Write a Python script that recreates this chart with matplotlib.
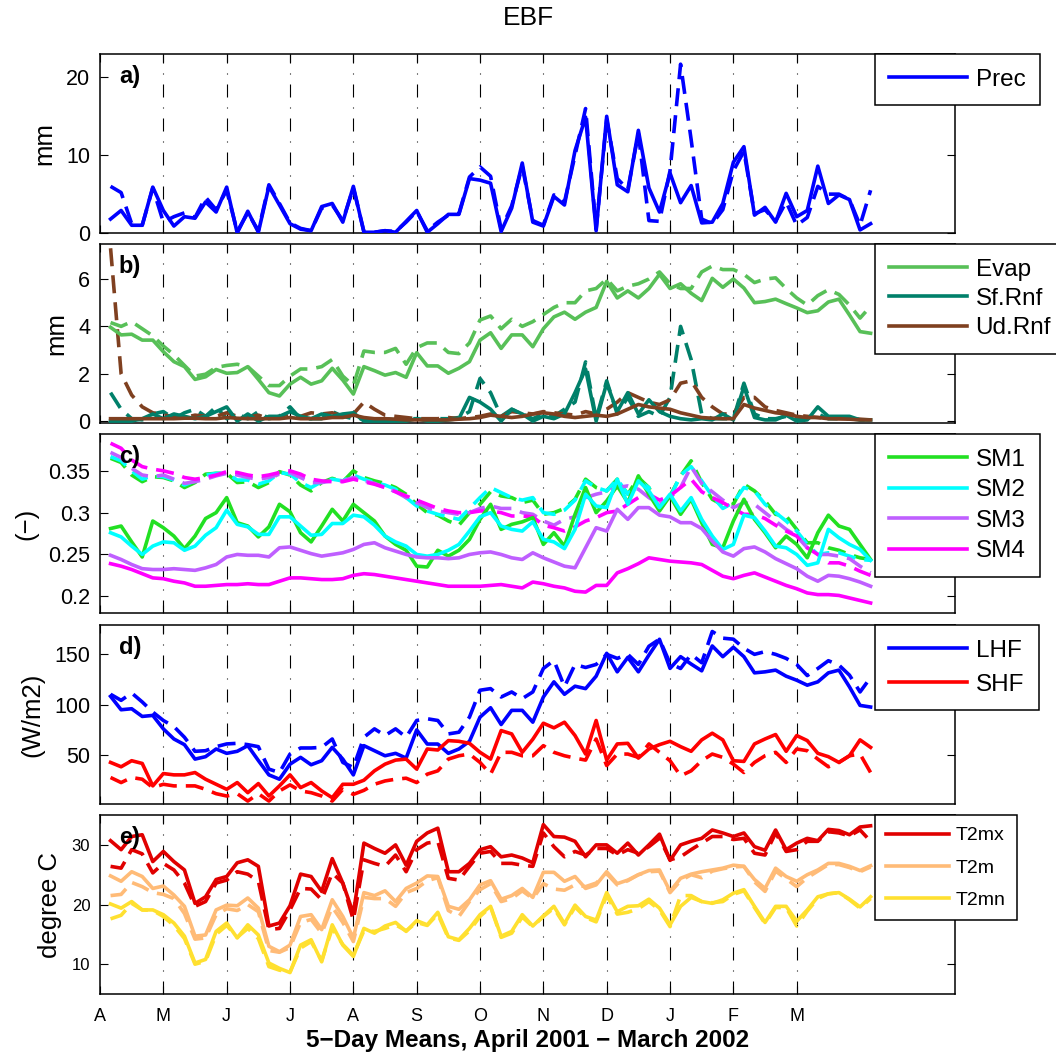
import matplotlib.pyplot as plt
import numpy as np

# 73 five-day periods, April 2001 - March 2002
days = np.arange(1, 74)
month_pos = [0, 6, 12, 18, 24, 30, 36, 42, 48, 54, 60, 66]
month_lbl = ['A', 'M', 'J', 'J', 'A', 'S', 'O', 'N', 'D', 'J', 'F', 'M']

# a) precipitation (solid / dashed)
prec = [1.8, 2.9, 1.0, 1.0, 5.9, 2.9, 0.9, 2.1, 1.9, 4.0,
        2.7, 5.9, 0.0, 2.8, 0.1, 6.0, 3.6, 1.2, 0.5, 0.3,
        3.4, 3.8, 1.4, 6.0, 0.1, 0.1, 0.3, 0.1, 1.5, 2.9,
        0.1, 1.2, 2.4, 2.4, 7.0, 6.8, 6.4, 0.2, 3.2, 9.0,
        1.4, 0.9, 4.7, 3.6, 10.6, 14.9, 0.3, 15.0, 6.2, 5.3,
        13.2, 5.8, 2.7, 7.7, 3.9, 6.1, 1.3, 1.4, 3.8, 9.1,
        11.1, 2.3, 3.3, 1.4, 5.1, 2.1, 2.9, 8.6, 3.8, 4.9,
        4.3, 0.4, 1.2]
prec_d = [6.0, 5.2, 1.2, 1.0, 5.8, 1.4, 2.1, 2.6, 2.0, 4.6,
          3.0, 5.5, 0.2, 2.6, 0.3, 6.2, 3.8, 1.3, 0.6, 0.3,
          3.2, 3.6, 1.6, 5.8, 0.2, 0.1, 0.3, 0.2, 1.4, 2.8,
          0.3, 1.4, 2.3, 2.5, 7.2, 8.5, 7.3, 0.5, 3.5, 8.6,
          1.6, 1.0, 4.9, 4.0, 10.0, 16.0, 0.5, 14.6, 7.0, 5.6,
          12.8, 1.6, 1.5, 8.0, 21.7, 12.0, 1.8, 1.2, 3.0, 8.0,
          10.5, 2.5, 3.0, 1.5, 4.0, 1.0, 2.0, 6.0, 5.0, 5.0,
          4.3, 1.0, 5.5]

# b) evaporation and runoff
evap = [3.96, 3.64, 3.67, 3.42, 3.42, 2.93, 2.51, 2.30, 1.76, 1.87,
        2.18, 2.02, 2.05, 2.30, 1.76, 1.20, 1.06, 1.56, 1.85, 1.56,
        1.70, 2.23, 1.73, 1.14, 2.30, 2.13, 1.94, 2.05, 1.85, 2.89,
        2.33, 2.33, 2.02, 2.23, 2.51, 3.42, 3.73, 3.07, 3.64, 3.64,
        3.14, 3.9, 4.4, 4.6, 4.3, 4.6, 4.8, 5.9, 5.2, 5.5,
        5.2, 5.6, 6.2, 5.6, 5.8, 5.4, 5.09, 6.03, 5.65, 6.0,
        5.62, 5.0, 5.05, 5.15, 4.96, 4.78, 4.58, 4.66, 5.03, 5.15,
        4.48, 3.78, 3.71]
evap_d = [4.16, 4.0, 4.2, 3.9, 3.6, 3.17, 2.8, 2.35, 1.9, 1.98,
          2.27, 2.35, 2.4, 2.3, 1.9, 1.5, 1.5, 1.9, 2.2, 2.2,
          2.3, 2.6, 1.9, 1.5, 2.96, 2.9, 2.9, 3.07, 2.4, 3.1,
          3.3, 3.3, 2.9, 2.85, 3.3, 4.27, 4.44, 3.9, 4.3, 4.0,
          4.2, 4.5, 4.8, 5.0, 5.0, 5.5, 5.6, 6.0, 5.5, 5.7,
          5.8, 6.0, 6.3, 5.8, 5.6, 5.6, 6.3, 6.55, 6.4, 6.4,
          6.2, 5.85, 6.0, 6.05, 5.6, 5.2, 4.9, 5.3, 5.55, 5.35,
          4.9, 4.35, 4.85]
sfrnf = [0.0, 0.0, 0.0, 0.1, 0.3, 0.1, 0.3, 0.2, 0.1, 0.2,
         0.4, 0.6, 0.0, 0.3, 0.0, 0.2, 0.2, 0.4, 0.2, 0.1,
         0.3, 0.2, 0.3, 0.35, 0.0, 0.0, 0.0, 0.0, 0.0, 0.1,
         0.0, 0.0, 0.05, 0.1, 1.0, 0.8, 0.5, 0.0, 0.5, 0.3,
         0.0, 0.2, 0.1, 0.3, 1.2, 2.2, 0.0, 1.6, 0.4, 1.2,
         0.3, 0.9, 0.4, 0.2, 0.1, 0.05, 0.1, 0.05, 0.3, 0.05,
         1.45, 0.15, 0.05, 0.05, 0.25, 0.0, 0.05, 0.6, 0.2, 0.2,
         0.2, 0.05, 0.05]
sfrnf_d = [1.2, 0.5, 0.1, 0.05, 0.3, 0.4, 0.1, 0.35, 0.5, 0.2,
           0.6, 0.1, 0.3, 0.1, 0.4, 0.1, 0.2, 0.6, 0.1, 0.1,
           0.1, 0.4, 0.2, 0.1, 0.1, 0.05, 0.1, 0.05, 0.1, 0.1,
           0.05, 0.1, 0.1, 0.15, 0.4, 1.8, 1.2, 0.2, 0.5, 0.3,
           0.1, 0.3, 0.2, 0.5, 0.8, 2.5, 0.1, 1.7, 0.3, 1.0,
           0.2, 0.4, 0.2, 1.0, 4.0, 2.6, 0.3, 0.1, 0.1, 0.1,
           1.6, 0.3, 0.1, 0.1, 0.2, 0.1, 0.1, 0.3, 0.1, 0.1,
           0.1, 0.05, 0.05]
udrnf = [0.1, 0.1, 0.1, 0.1, 0.1, 0.1, 0.1, 0.12, 0.12, 0.1,
         0.1, 0.15, 0.12, 0.1, 0.1, 0.1, 0.1, 0.15, 0.1, 0.1,
         0.1, 0.15, 0.15, 0.25, 0.15, 0.1, 0.1, 0.08, 0.05, 0.05,
         0.05, 0.05, 0.05, 0.08, 0.1, 0.15, 0.25, 0.2, 0.15, 0.2,
         0.3, 0.35, 0.3, 0.2, 0.15, 0.2, 0.25, 0.2, 0.3, 0.5,
         0.7, 0.6, 0.55, 0.5, 0.35, 0.25, 0.15, 0.12, 0.1, 0.1,
         0.7, 0.55, 0.45, 0.35, 0.3, 0.2, 0.15, 0.15, 0.1, 0.1,
         0.08, 0.05, 0.05]
udrnf_d = [7.3, 2.0, 1.1, 0.6, 0.35, 0.25, 0.2, 0.15, 0.25, 0.2,
           0.2, 0.35, 0.2, 0.15, 0.25, 0.1, 0.2, 0.3, 0.2, 0.35,
           0.3, 0.35, 0.2, 0.3, 0.8, 0.5, 0.25, 0.2, 0.15, 0.1,
           0.1, 0.1, 0.15, 0.1, 0.15, 0.2, 0.3, 0.2, 0.4, 0.35,
           0.3, 0.4, 0.35, 0.3, 0.25, 0.4, 0.3, 0.5, 0.8, 1.2,
           1.0, 0.8, 0.7, 0.9, 1.6, 1.7, 1.0, 0.6, 0.3, 0.3,
           1.0, 1.0, 0.6, 0.45, 0.35, 0.25, 0.2, 0.15, 0.12, 0.1,
           0.1, 0.08, 0.05]

# c) soil moisture layers
sm1 = [0.281, 0.284, 0.265, 0.247, 0.290, 0.282, 0.272, 0.257, 0.272, 0.293,
       0.300, 0.318, 0.288, 0.284, 0.271, 0.283, 0.310, 0.301, 0.276, 0.265,
       0.284, 0.304, 0.290, 0.310, 0.300, 0.290, 0.272, 0.262, 0.255, 0.236,
       0.235, 0.255, 0.248, 0.255, 0.268, 0.292, 0.310, 0.280, 0.286, 0.289,
       0.294, 0.262, 0.276, 0.260, 0.298, 0.330, 0.300, 0.314, 0.332, 0.312,
       0.344, 0.322, 0.302, 0.320, 0.298, 0.316, 0.288, 0.262, 0.258, 0.290,
       0.316, 0.292, 0.276, 0.258, 0.272, 0.262, 0.246, 0.276, 0.297, 0.284,
       0.280, 0.262, 0.244]
sm1_d = [0.365, 0.360, 0.345, 0.337, 0.343, 0.342, 0.338, 0.330, 0.336, 0.346,
         0.347, 0.347, 0.336, 0.337, 0.330, 0.336, 0.349, 0.345, 0.333, 0.326,
         0.336, 0.341, 0.337, 0.350, 0.342, 0.338, 0.335, 0.330, 0.322, 0.310,
         0.300, 0.297, 0.290, 0.285, 0.300, 0.310, 0.325, 0.320, 0.318, 0.312,
         0.315, 0.298, 0.300, 0.305, 0.316, 0.340, 0.330, 0.326, 0.340, 0.322,
         0.342, 0.330, 0.304, 0.320, 0.344, 0.362, 0.336, 0.316, 0.309, 0.310,
         0.334, 0.326, 0.314, 0.298, 0.296, 0.280, 0.264, 0.264, 0.258, 0.255,
         0.250, 0.246, 0.244]
sm2 = [0.276, 0.271, 0.260, 0.250, 0.260, 0.265, 0.264, 0.255, 0.260, 0.273,
       0.282, 0.303, 0.286, 0.283, 0.274, 0.274, 0.295, 0.295, 0.284, 0.273,
       0.274, 0.287, 0.287, 0.297, 0.295, 0.285, 0.272, 0.265, 0.260, 0.250,
       0.248, 0.250, 0.255, 0.262, 0.278, 0.295, 0.300, 0.284, 0.280, 0.278,
       0.289, 0.268, 0.265, 0.257, 0.280, 0.322, 0.308, 0.306, 0.340, 0.310,
       0.338, 0.326, 0.306, 0.322, 0.302, 0.318, 0.292, 0.272, 0.256, 0.262,
       0.297, 0.294, 0.278, 0.260, 0.258, 0.250, 0.237, 0.240, 0.280, 0.270,
       0.262, 0.256, 0.243]
sm2_d = [0.367, 0.362, 0.350, 0.340, 0.344, 0.343, 0.339, 0.333, 0.338, 0.345,
         0.347, 0.347, 0.339, 0.339, 0.334, 0.338, 0.348, 0.346, 0.336, 0.330,
         0.337, 0.340, 0.338, 0.345, 0.340, 0.336, 0.333, 0.328, 0.318, 0.308,
         0.302, 0.298, 0.295, 0.292, 0.305, 0.318, 0.330, 0.324, 0.318, 0.315,
         0.318, 0.300, 0.298, 0.303, 0.315, 0.338, 0.330, 0.326, 0.340, 0.322,
         0.338, 0.330, 0.305, 0.318, 0.345, 0.355, 0.338, 0.320, 0.305, 0.312,
         0.330, 0.326, 0.310, 0.300, 0.290, 0.278, 0.262, 0.250, 0.252, 0.252,
         0.248, 0.244, 0.243]
sm3 = [0.249, 0.244, 0.238, 0.233, 0.232, 0.232, 0.233, 0.232, 0.231, 0.234,
       0.238, 0.247, 0.250, 0.249, 0.249, 0.247, 0.258, 0.259, 0.255, 0.251,
       0.248, 0.250, 0.252, 0.256, 0.262, 0.264, 0.258, 0.254, 0.250, 0.247,
       0.246, 0.246, 0.245, 0.246, 0.250, 0.252, 0.253, 0.250, 0.246, 0.244,
       0.252, 0.246, 0.241, 0.236, 0.234, 0.258, 0.282, 0.278, 0.304, 0.292,
       0.306, 0.306, 0.297, 0.295, 0.288, 0.288, 0.281, 0.266, 0.253, 0.248,
       0.257, 0.259, 0.253, 0.245, 0.239, 0.233, 0.224, 0.218, 0.225, 0.224,
       0.221, 0.217, 0.212]
sm3_d = [0.372, 0.366, 0.353, 0.345, 0.343, 0.345, 0.340, 0.335, 0.337, 0.340,
         0.344, 0.347, 0.345, 0.342, 0.340, 0.342, 0.346, 0.348, 0.342, 0.336,
         0.336, 0.338, 0.338, 0.342, 0.338, 0.335, 0.330, 0.325, 0.318, 0.312,
         0.306, 0.302, 0.300, 0.298, 0.300, 0.305, 0.308, 0.305, 0.305, 0.300,
         0.298, 0.290, 0.285, 0.292, 0.295, 0.318, 0.322, 0.325, 0.330, 0.332,
         0.328, 0.318, 0.310, 0.318, 0.330, 0.355, 0.335, 0.325, 0.315, 0.306,
         0.312, 0.310, 0.300, 0.290, 0.280, 0.272, 0.258, 0.250, 0.250, 0.248,
         0.245, 0.236, 0.228]
sm4 = [0.239, 0.236, 0.232, 0.227, 0.222, 0.221, 0.218, 0.216, 0.212, 0.212,
       0.213, 0.214, 0.214, 0.215, 0.214, 0.214, 0.218, 0.222, 0.222, 0.221,
       0.220, 0.220, 0.221, 0.225, 0.227, 0.226, 0.224, 0.222, 0.220, 0.218,
       0.216, 0.214, 0.212, 0.212, 0.212, 0.212, 0.213, 0.214, 0.212, 0.210,
       0.217, 0.215, 0.212, 0.210, 0.206, 0.205, 0.213, 0.213, 0.228, 0.233,
       0.239, 0.246, 0.244, 0.242, 0.241, 0.240, 0.238, 0.231, 0.224, 0.221,
       0.225, 0.228, 0.223, 0.218, 0.213, 0.209, 0.204, 0.202, 0.202, 0.201,
       0.198, 0.195, 0.192]
sm4_d = [0.383, 0.377, 0.363, 0.355, 0.352, 0.350, 0.347, 0.342, 0.340, 0.342,
         0.345, 0.349, 0.348, 0.345, 0.343, 0.345, 0.348, 0.350, 0.346, 0.340,
         0.338, 0.337, 0.337, 0.340, 0.337, 0.334, 0.330, 0.325, 0.320, 0.315,
         0.310, 0.305, 0.302, 0.300, 0.300, 0.302, 0.302, 0.300, 0.296, 0.296,
         0.295, 0.285, 0.282, 0.278, 0.283, 0.290, 0.294, 0.300, 0.302, 0.310,
         0.318, 0.322, 0.315, 0.320, 0.330, 0.340, 0.325, 0.318, 0.312, 0.305,
         0.298, 0.298, 0.293, 0.285, 0.278, 0.272, 0.258, 0.250, 0.240, 0.240,
         0.236, 0.230, 0.225]

# d) latent and sensible heat flux
lhf = [108.5, 95.2, 96.2, 88.6, 89.6, 76.3, 66.3, 60.7, 46.4, 48.8,
       56.4, 52.1, 54.1, 59.7, 45.0, 30.8, 26.5, 41.4, 48.1, 40.8,
       44.8, 58.0, 46.4, 30.8, 59.7, 54.7, 49.7, 52.1, 47.4, 75.3,
       61.3, 61.3, 52.1, 56.4, 64.0, 87.9, 97.2, 80.6, 94.6, 94.6,
       82.9, 107.8, 122.8, 110.5, 118.5, 116.1, 128.4, 151.0, 132.7, 147.0,
       132.7, 149.3, 164.9, 136.1, 147.7, 140.4, 133.7, 158.3, 147.7, 157.0,
       147.7, 131.7, 132.7, 134.4, 128.4, 124.4, 119.5, 122.8, 131.7, 134.4,
       117.8, 99.5, 97.9]
lhf_d = [110.5, 104.5, 111.8, 102.9, 92.9, 84.6, 78.6, 68.0, 54.1, 54.7,
         58.7, 61.4, 62.0, 60.7, 58.7, 36.5, 33.1, 51.4, 57.4, 57.4,
         58.0, 66.3, 43.1, 38.1, 68.0, 76.3, 69.7, 76.3, 68.0, 84.6,
         86.3, 84.6, 71.3, 73.0, 87.9, 114.5, 116.1, 107.8, 112.8, 106.2,
         112.8, 136.0, 144.0, 118.0, 140.0, 137.0, 140.0, 150.0, 146.0, 150.0,
         140.0, 158.0, 165.0, 141.0, 136.0, 150.0, 141.7, 172.6, 166.0, 165.0,
         156.0, 150.0, 152.7, 150.0, 146.0, 140.0, 129.0, 136.0, 143.7, 139.4,
         129.4, 112.8, 127.1]
shf = [43.1, 38.8, 44.8, 42.1, 19.9, 32.1, 30.8, 30.8, 33.1, 26.5,
       21.5, 16.5, 23.2, 13.2, 22.2, 9.9, 19.9, 30.8, 18.2, 23.2,
       14.9, 8.2, 21.5, 21.5, 25.5, 34.8, 41.4, 45.4, 46.4, 36.5,
       56.4, 55.4, 64.7, 64.0, 62.0, 53.1, 46.4, 74.6, 71.3, 53.1,
       66.0, 81.9, 77.3, 82.9, 69.7, 51.4, 84.6, 45.4, 61.4, 62.0,
       47.4, 56.4, 60.7, 64.0, 58.7, 54.1, 65.4, 72.0, 65.4, 44.8,
       44.1, 61.4, 66.3, 70.7, 54.1, 69.7, 64.7, 52.1, 48.8, 43.1,
       49.7, 65.4, 58.0]
shf_d = [28.2, 23.2, 28.2, 26.5, 18.2, 21.5, 19.9, 19.9, 19.9, 16.5,
         12.2, 9.9, 12.2, 4.9, 12.2, 4.9, 14.9, 20.9, 14.9, 13.2,
         9.9, 4.9, 16.5, 11.5, 15.5, 21.5, 24.8, 26.5, 27.5, 23.2,
         31.5, 34.8, 46.4, 49.7, 51.4, 43.1, 31.5, 53.1, 53.1, 49.7,
         49.7, 59.7, 53.1, 49.7, 47.4, 45.4, 66.3, 40.0, 51.4, 51.4,
         48.1, 61.4, 53.1, 44.8, 29.8, 34.8, 44.8, 51.4, 48.1, 41.4,
         33.1, 43.1, 49.7, 53.1, 43.1, 56.4, 54.7, 46.4, 38.8, 43.1,
         49.7, 51.4, 33.1]

# e) 2 m temperature
t2mx = [30.7, 29.2, 31.4, 31.7, 27.2, 28.9, 27.2, 25.8, 20.2, 21.3,
        24.2, 24.7, 27.0, 27.5, 26.4, 16.4, 16.9, 19.8, 25.1, 24.7,
        22.2, 27.7, 23.6, 18.5, 30.3, 29.4, 28.6, 30.0, 26.6, 30.6,
        32.0, 32.8, 25.5, 25.5, 26.9, 29.2, 29.7, 28.0, 28.3, 27.8,
        27.0, 33.4, 31.4, 31.3, 30.6, 28.0, 30.0, 30.0, 28.6, 30.3,
        28.3, 30.0, 31.8, 27.4, 30.0, 30.6, 31.1, 32.5, 32.0, 31.4,
        32.0, 29.7, 29.1, 32.5, 29.2, 30.3, 31.1, 30.7, 32.6, 32.4,
        31.7, 33.0, 33.2]
t2mx_d = [26.4, 26.1, 29.2, 28.5, 25.3, 26.9, 25.8, 23.6, 19.7, 20.5,
          23.6, 24.1, 25.5, 25.1, 23.9, 15.8, 16.0, 19.1, 22.7, 22.6,
          20.8, 25.3, 23.6, 17.4, 27.5, 26.9, 26.4, 28.3, 25.5, 29.2,
          30.3, 30.6, 24.4, 24.1, 26.4, 28.6, 28.9, 26.9, 26.9, 26.6,
          26.4, 32.0, 29.7, 28.0, 28.9, 28.3, 29.4, 29.4, 28.3, 29.2,
          28.6, 29.7, 31.1, 27.5, 28.0, 29.2, 30.3, 31.4, 31.4, 30.9,
          31.1, 28.6, 28.3, 32.0, 28.9, 29.2, 30.6, 30.6, 32.2, 32.0,
          31.5, 32.5, 30.6]
t2m = [24.8, 23.9, 25.5, 24.7, 22.7, 23.1, 21.6, 19.7, 14.7, 14.9,
       19.1, 19.9, 19.8, 21.1, 19.4, 13.0, 12.1, 13.2, 18.0, 18.3,
       15.8, 20.8, 18.0, 14.4, 22.0, 21.5, 22.3, 20.5, 22.7, 23.6,
       24.8, 24.7, 19.7, 19.2, 20.8, 23.3, 24.0, 20.9, 21.5, 22.7,
       21.2, 25.4, 25.4, 23.9, 24.7, 22.7, 23.3, 25.5, 23.5, 24.1,
       25.0, 25.7, 25.8, 22.2, 24.4, 25.1, 25.5, 25.8, 26.1, 26.6,
       26.4, 24.2, 22.7, 26.1, 24.7, 23.9, 25.0, 25.8, 26.9, 26.9,
       26.4, 25.7, 26.5]
t2m_d = [21.5, 21.7, 23.7, 23.0, 22.0, 21.7, 21.0, 18.5, 14.2, 14.4,
         18.3, 19.3, 19.0, 20.0, 18.8, 12.3, 12.0, 12.8, 17.0, 17.5,
         15.2, 19.6, 17.0, 13.8, 21.2, 21.0, 21.0, 19.7, 22.0, 22.7,
         24.0, 24.5, 19.0, 18.0, 20.5, 22.5, 23.5, 20.5, 21.0, 22.3,
         21.0, 23.5, 22.6, 22.4, 23.3, 23.0, 23.6, 25.2, 23.3, 24.0,
         25.0, 25.5, 25.6, 22.0, 24.0, 25.0, 24.5, 25.6, 26.0, 26.3,
         26.4, 23.8, 22.2, 25.6, 24.3, 23.0, 24.5, 25.6, 26.7, 26.7,
         26.2, 25.5, 26.3]
t2mn = [20.1, 19.4, 20.5, 19.1, 19.1, 18.3, 16.9, 14.7, 10.2, 10.8,
        15.5, 16.9, 14.4, 16.6, 14.9, 10.2, 9.3, 8.6, 13.2, 14.1,
        10.4, 16.6, 13.2, 11.3, 16.0, 15.2, 16.4, 17.0, 15.5, 17.3,
        16.6, 18.7, 14.6, 14.1, 16.0, 18.3, 19.7, 14.7, 15.5, 18.3,
        16.4, 18.1, 19.7, 16.8, 19.9, 18.0, 17.4, 22.0, 18.8, 19.7,
        19.8, 20.9, 19.4, 16.6, 19.7, 21.2, 20.5, 20.2, 20.8, 21.9,
        22.5, 19.7, 17.0, 19.7, 19.7, 17.2, 19.1, 21.3, 21.8, 22.0,
        20.9, 19.6, 21.3]
t2mn_d = [17.6, 18.2, 20.2, 19.1, 19.0, 18.0, 16.5, 14.3, 10.0, 10.5,
          15.0, 16.5, 14.5, 16.0, 14.3, 9.6, 9.0, 8.7, 12.7, 13.8,
          10.6, 16.0, 13.3, 11.5, 15.6, 15.5, 16.0, 16.6, 15.6, 17.0,
          16.5, 18.4, 14.4, 14.0, 15.6, 18.0, 19.6, 14.5, 15.2, 17.9,
          16.3, 18.0, 19.4, 16.6, 19.6, 17.8, 17.1, 21.5, 18.4, 18.7,
          19.3, 20.5, 19.1, 16.3, 21.5, 21.5, 20.5, 20.3, 20.5, 21.7,
          22.3, 19.5, 16.8, 19.5, 19.5, 16.4, 18.9, 21.0, 21.8, 22.0,
          20.8, 19.4, 21.0]

plt.rcParams['font.family'] = ['Liberation Sans', 'DejaVu Sans']

fig = plt.figure(figsize=(10.56, 10.54), dpi=100)
left, width, height = 0.0947, 0.8097, 0.1698
bottoms = [0.7789, 0.5987, 0.4184, 0.2372, 0.0569]


def panel(k, series, ylim, yticks, ylabels, ylabel, tag, fs, lfs, lspace):
    ax = fig.add_axes([left, bottoms[k], width, height])
    for m in month_pos[1:]:
        ax.axvline(m, color='k', lw=0.8, ls=(0, (11.7, 9, 0.9, 9)), zorder=1)
    for name, sim, ref, col in series:
        ax.plot(days, ref, color=col, lw=2.6, ls=(0, (5, 2.5)), zorder=2)
    hs = []
    for name, sim, ref, col in series:
        h, = ax.plot(days, sim, color=col, lw=2.6, label=name, zorder=3)
        hs.append(h)
    ax.set_xlim(0, 81)
    ax.set_ylim(*ylim)
    ax.set_yticks(yticks)
    ax.set_yticklabels(ylabels)
    ax.set_xticks(month_pos)
    if k == 4:
        ax.set_xticklabels(month_lbl)
    else:
        ax.set_xticklabels([])
    ax.tick_params(direction='in', length=6, width=0.8, top=True, right=True,
                   labelsize=fs, pad=7)
    ax.tick_params(axis='x', pad=10, labelsize=13)
    for s in ax.spines.values():
        s.set_linewidth(1.1)
    ax.set_ylabel(ylabel, fontsize=18.5, labelpad=7)
    ax.text(0.022, 0.94, tag, transform=ax.transAxes, fontsize=17,
            fontweight='bold', va='top', ha='left', zorder=5)
    leg = ax.legend(handles=hs, loc='upper left', bbox_to_anchor=(0.906, 1.0),
                    borderaxespad=0, fontsize=lfs, handlelength=3.2,
                    handletextpad=0.35, borderpad=0.6, labelspacing=lspace,
                    fancybox=False, framealpha=1, edgecolor='k')
    leg.get_frame().set_linewidth(1.1)
    leg.set_zorder(10)
    return ax


panel(0, [('Prec', prec, prec_d, '#0000FF')],
      (0, 23), [0, 10, 20], ['0', '10', '20'], 'mm', 'a)', 15.5, 17.5, 0.4)
panel(1, [('Evap', evap, evap_d, '#58C058'),
          ('Sf.Rnf', sfrnf, sfrnf_d, '#00806A'),
          ('Ud.Rnf', udrnf, udrnf_d, '#7F4020')],
      (-0.08, 7.48), [0, 2, 4, 6], ['0', '2', '4', '6'], 'mm', 'b)', 15.5, 17.5, 0.3)
panel(2, [('SM1', sm1, sm1_d, '#22E022'),
          ('SM2', sm2, sm2_d, '#00FFFF'),
          ('SM3', sm3, sm3_d, '#BF5FFF'),
          ('SM4', sm4, sm4_d, '#FF00FF')],
      (0.18, 0.394), [0.2, 0.25, 0.3, 0.35], ['0.2', '0.25', '0.3', '0.35'],
      '(\u2212)', 'c)', 15.5, 17.5, 0.35)
panel(3, [('LHF', lhf, lhf_d, '#0000FF'),
          ('SHF', shf, shf_d, '#FF0000')],
      (2, 179), [50, 100, 150], ['50', '100', '150'], '(W/m2)', 'd)', 15.5, 17.5, 0.5)
panel(4, [('T2mx', t2mx, t2mx_d, '#E00000'),
          ('T2m', t2m, t2m_d, '#FFBB77'),
          ('T2mn', t2mn, t2mn_d, '#FFE030')],
      (5, 35), [10, 20, 30], ['10', '20', '30'], 'degree C', 'e)', 12, 14, 0.75)

fig.text(0.5, 0.983, 'EBF', ha='center', va='center', fontsize=19)
fig.text(0.4995, 0.013, '5\u2212Day Means, April 2001 \u2212 March 2002',
         ha='center', va='center', fontsize=17.5, fontweight='bold')

fig.savefig('out.png', dpi=100)
